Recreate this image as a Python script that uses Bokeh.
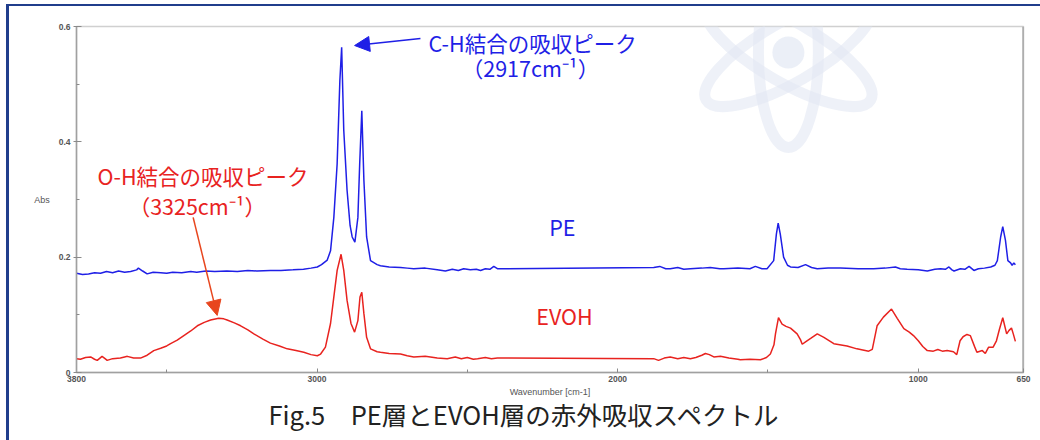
import math
from bokeh.plotting import figure
from bokeh.models import Range1d, FixedTicker, Label, Arrow, NormalHead, Span, Title
from bokeh.embed import file_html
from bokeh.resources import INLINE

# ---------------- data ----------------
pe_wn = [3800, 3780, 3760, 3740, 3720, 3700, 3680, 3660, 3640, 3620, 3600, 3594, 3580, 3565,
         3545, 3520, 3500, 3480, 3450, 3420, 3400, 3370, 3340, 3300, 3265, 3230, 3200, 3155,
         3120, 3080, 3045, 3020, 2999, 2985, 2966, 2955, 2944, 2933, 2924, 2918, 2911, 2900,
         2890, 2883, 2874, 2864, 2858, 2851, 2844, 2835, 2822, 2800, 2789, 2760, 2722, 2700,
         2678, 2640, 2600, 2573, 2550, 2530, 2512, 2490, 2470, 2456, 2440, 2425, 2412, 2400,
         2390, 1880, 1860, 1840, 1825, 1800, 1780, 1758, 1720, 1692, 1660, 1647, 1600, 1560,
         1542, 1520, 1503, 1481, 1472, 1466, 1459, 1448, 1435, 1425, 1400, 1375, 1355, 1336,
         1300, 1259, 1200, 1148, 1110, 1076, 1060, 1037, 1000, 970, 945, 926, 910, 898, 888,
         881, 860, 845, 831, 815, 800, 780, 759, 745, 737, 726, 719, 710, 702, 693, 688, 682, 677]
pe_abs = [0.172, 0.170, 0.171, 0.173, 0.172, 0.175, 0.173, 0.176, 0.174, 0.175, 0.178, 0.181, 0.176, 0.171,
          0.174, 0.173, 0.172, 0.174, 0.173, 0.175, 0.174, 0.176, 0.175, 0.176, 0.175, 0.177, 0.176, 0.177,
          0.177, 0.178, 0.179, 0.181, 0.183, 0.187, 0.195, 0.211, 0.269, 0.362, 0.506, 0.564, 0.420, 0.316,
          0.255, 0.235, 0.226, 0.269, 0.362, 0.454, 0.333, 0.235, 0.194, 0.187, 0.185, 0.183, 0.182, 0.181,
          0.180, 0.181, 0.178, 0.176, 0.179, 0.177, 0.180, 0.178, 0.179, 0.177, 0.180, 0.179, 0.184, 0.180,
          0.180, 0.182, 0.184, 0.180, 0.180, 0.182, 0.179, 0.180, 0.181, 0.182, 0.180, 0.180, 0.181, 0.180,
          0.184, 0.180, 0.180, 0.194, 0.240, 0.259, 0.240, 0.200, 0.186, 0.183, 0.182, 0.187, 0.182, 0.180,
          0.181, 0.181, 0.180, 0.180, 0.181, 0.183, 0.180, 0.179, 0.178, 0.176, 0.179, 0.180, 0.179, 0.183, 0.178,
          0.176, 0.180, 0.179, 0.184, 0.177, 0.180, 0.181, 0.183, 0.186, 0.194, 0.235, 0.253, 0.229, 0.194, 0.190, 0.186, 0.190, 0.187]

evoh_wn = [3800, 3787, 3770, 3753, 3740, 3731, 3715, 3705, 3698, 3680, 3654, 3640, 3631, 3610,
           3587, 3565, 3543, 3520, 3500, 3487, 3465, 3443, 3420, 3398, 3375, 3354, 3327, 3310,
           3299, 3275, 3254, 3230, 3210, 3180, 3155, 3125, 3099, 3070, 3044, 3020, 2999, 2988,
           2972, 2955, 2944, 2933, 2920, 2911, 2900, 2887, 2875, 2864, 2857, 2851, 2844, 2835,
           2822, 2800, 2789, 2760, 2722, 2700, 2678, 2640, 2600, 2567, 2540, 2520, 2500, 2480,
           2466, 2440, 2420, 2400, 2390, 1880, 1864, 1845, 1825, 1800, 1780, 1758, 1740, 1720,
           1708, 1695, 1680, 1658, 1630, 1600, 1592, 1560, 1525, 1505, 1492, 1480, 1475, 1465,
           1453, 1440, 1425, 1403, 1392, 1386, 1375, 1358, 1336, 1314, 1281, 1237, 1204, 1165,
           1153, 1137, 1116, 1089, 1070, 1048, 1030, 1016, 1000, 985, 970, 950, 935, 920, 904,
           883, 872, 861, 851, 838, 827, 812, 805, 787, 777, 766, 751, 740, 730, 719, 706, 698,
           690, 684, 677]
evoh_abs = [0.024, 0.023, 0.026, 0.027, 0.023, 0.021, 0.028, 0.024, 0.021, 0.024, 0.025, 0.027, 0.028, 0.025,
            0.025, 0.030, 0.038, 0.042, 0.046, 0.050, 0.056, 0.064, 0.072, 0.081, 0.087, 0.091, 0.094, 0.093,
            0.091, 0.086, 0.081, 0.074, 0.067, 0.058, 0.051, 0.046, 0.041, 0.038, 0.035, 0.031, 0.029, 0.032,
            0.044, 0.085, 0.131, 0.177, 0.205, 0.177, 0.125, 0.085, 0.070, 0.090, 0.131, 0.139, 0.102, 0.061,
            0.041, 0.036, 0.035, 0.033, 0.032, 0.029, 0.027, 0.028, 0.025, 0.024, 0.027, 0.024, 0.026, 0.023,
            0.024, 0.026, 0.024, 0.025, 0.025, 0.024, 0.021, 0.025, 0.027, 0.024, 0.026, 0.024, 0.026, 0.030,
            0.033, 0.031, 0.027, 0.028, 0.025, 0.023, 0.022, 0.023, 0.022, 0.026, 0.032, 0.048, 0.067, 0.095,
            0.084, 0.080, 0.077, 0.067, 0.057, 0.049, 0.053, 0.059, 0.067, 0.061, 0.050, 0.046, 0.041, 0.037,
            0.040, 0.081, 0.096, 0.110, 0.094, 0.076, 0.070, 0.064, 0.055, 0.045, 0.038, 0.037, 0.040, 0.037, 0.038,
            0.036, 0.031, 0.055, 0.062, 0.066, 0.064, 0.044, 0.035, 0.038, 0.033, 0.044, 0.044, 0.055, 0.075, 0.095, 0.067, 0.073,
            0.077, 0.067, 0.054]

x_major = [3800, 3000, 2000, 1000, 650]
x_minor = [3500, 2500, 1500]
y_major = [0, 0.2, 0.4, 0.6]
y_minor = [0.1, 0.3, 0.5]
y_labels = ["0", "0.2", "0.4", "0.6"]

title_text = "Fig.5\u3000PE層とEVOH層の赤外吸収スペクトル"
ch_text = ["C-H結合の吸収ピーク", "（2917cm⁻¹）"]
oh_text = ["O-H結合の吸収ピーク", "（3325cm⁻¹）"]

BLUE = "#1f1fe6"
RED = "#e8231f"
ARROW_RED = "#e8461e"
JP = "Noto Sans CJK JP"

# ---------------- figure ----------------
p = figure(width=1040, height=440, output_backend="svg", toolbar_location=None,
           x_range=Range1d(3800, 650), y_range=Range1d(0, 0.6),
           min_border_left=76, min_border_right=17, min_border_top=26, min_border_bottom=68,
           background_fill_color="white", border_fill_color="white")
p.grid.visible = False
p.outline_line_color = "#d0d0d0"
p.outline_line_width = 1.5

# axes
p.xaxis.ticker = FixedTicker(ticks=x_major, minor_ticks=x_minor)
p.yaxis.ticker = FixedTicker(ticks=y_major, minor_ticks=y_minor)
p.yaxis.major_label_overrides = dict(zip(y_major, y_labels))
for ax in (p.xaxis, p.yaxis):
    ax.axis_line_color = "#a0a0a0"
    ax.axis_line_width = 1.5
    ax.major_tick_line_color = "#8a8a8a"
    ax.minor_tick_line_color = "#8a8a8a"
    ax.major_label_text_font = "Liberation Sans"
    ax.major_label_text_font_size = "8.5px"
    ax.major_label_text_font_style = "bold"
    ax.major_label_text_color = "#555555"
    ax.axis_label_text_font = "Liberation Sans"
    ax.axis_label_text_font_size = "9px"
    ax.axis_label_text_font_style = "normal"
    ax.axis_label_text_color = "#555555"
p.xaxis.major_tick_in = 4
p.xaxis.major_tick_out = 0
p.xaxis.minor_tick_in = 3
p.xaxis.minor_tick_out = 0
p.xaxis.major_label_standoff = 3
p.xaxis.axis_label = "Wavenumber [cm-1]"
p.xaxis.axis_label_standoff = 2
p.yaxis.major_tick_in = 5
p.yaxis.major_tick_out = 3
p.yaxis.minor_tick_in = 3
p.yaxis.minor_tick_out = 0
p.yaxis.major_label_standoff = 3
p.yaxis.axis_label = "Abs"
p.yaxis.axis_label_orientation = "horizontal"
p.yaxis.axis_label_standoff = 6

# right frame edge (darker)
p.add_layout(Span(location=650, dimension="height", line_color="#8c8c8c", line_width=2))

# spectra
p.line(pe_wn, pe_abs, line_color=BLUE, line_width=1.5)
p.line(evoh_wn, evoh_abs, line_color=RED, line_width=1.5)

# watermark (atom)
WM = "#e2e8f4"
p.ellipse(x=[1432, 1432, 1432], y=[0.555, 0.555, 0.555], width=[190, 190, 190], height=[60, 60, 60],
          angle=[math.pi / 2, math.pi / 6, -math.pi / 6], width_units="screen", height_units="screen",
          fill_color=None, line_color=WM, line_width=11, line_alpha=0.6)
p.ellipse(x=[1432], y=[0.555], width=[32], height=[32], width_units="screen", height_units="screen",
          fill_color=WM, fill_alpha=0.7, line_color=None)

# annotations
def lab(x, y, t, c, size="21.5px", align="center"):
    p.add_layout(Label(x=x, y=y, text=t, text_align=align, text_baseline="middle",
                       text_font=JP, text_font_size=size, text_color=c))

lab(2283, 0.572, ch_text[0], BLUE)
lab(2290, 0.529, ch_text[1], BLUE)
lab(3379, 0.342, oh_text[0], RED)
lab(3398, 0.290, oh_text[1], RED)
lab(2184, 0.253, "PE", BLUE)
lab(2177, 0.098, "EVOH", RED)

p.add_layout(Arrow(end=NormalHead(size=15, fill_color=BLUE, line_color=BLUE, line_width=1),
                   x_start=2656, y_start=0.579, x_end=2875, y_end=0.567,
                   line_color=BLUE, line_width=1.5))
p.add_layout(Arrow(end=NormalHead(size=15, fill_color=ARROW_RED, line_color=ARROW_RED, line_width=1),
                   x_start=3412, y_start=0.269, x_end=3332, y_end=0.099,
                   line_color=ARROW_RED, line_width=1.5))

# caption below the plot area
p.add_layout(Title(text=title_text, align="left", offset=192, vertical_align="middle",
                   text_font=JP, text_font_size="25.5px", text_font_style="normal",
                   text_color="#222222", standoff=-12), "below")

html = file_html(p, INLINE)
css = ("<style>body::before{content:'';position:fixed;left:6px;top:4px;width:3px;height:436px;"
       "background:#203e8c;z-index:5;}body::after{content:'';position:fixed;left:6px;top:4px;"
       "width:1034px;height:2px;background:#203e8c;z-index:5;}</style>")
html = html.replace("</head>", css + "</head>", 1)
open("out.html", "w").write(html)
